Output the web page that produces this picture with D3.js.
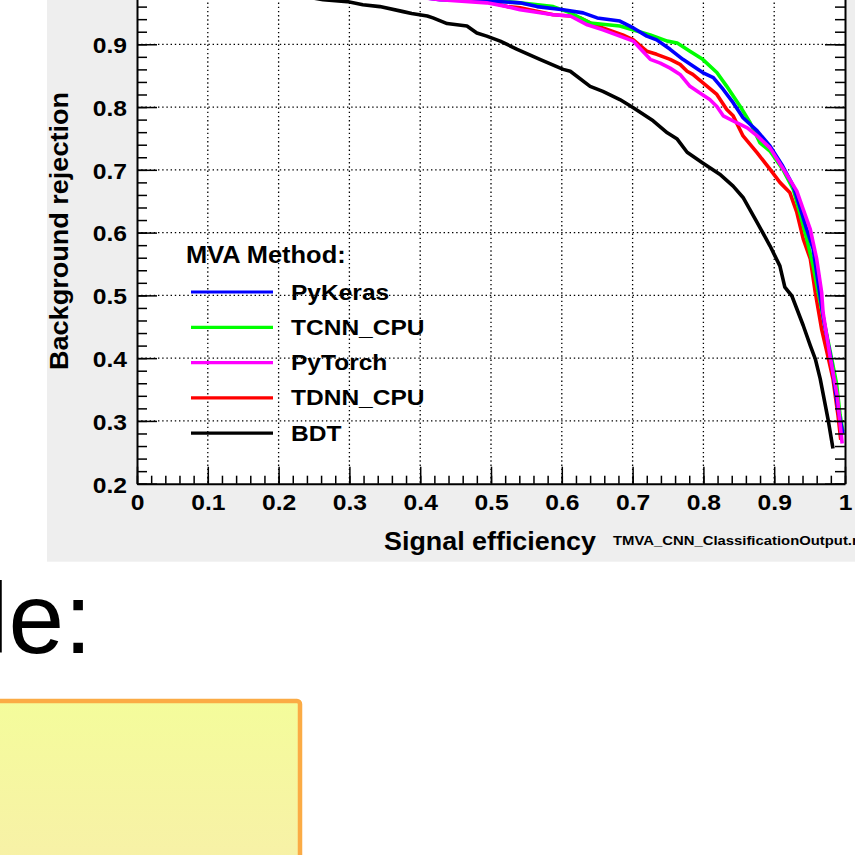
<!DOCTYPE html>
<html>
<head>
<meta charset="utf-8">
<script src="https://cdn.jsdelivr.net/npm/d3@7"></script>
<style>
html, body { margin: 0; padding: 0; background: #fff; overflow: hidden; }
svg { display: block; }
.root text { font-family: "Liberation Sans", Arial, Helvetica, sans-serif; font-weight: bold; fill: #000; }
.axis text { font-size: 22px; }
.axis path, .axis line { stroke: #000; }
.axis .domain { stroke-width: 2; }
.axis .tick line { stroke-width: 1.5; }
.grid line { stroke: #000; stroke-width: 1.3; stroke-dasharray: 1.4, 2.8; }
.slide text { font-family: "Liberation Sans", Arial, Helvetica, sans-serif; }
</style>
</head>
<body>
<div id="chart"></div>
<script>
// ROC curves: [signal efficiency, background rejection]
const methods = ["PyKeras", "TCNN_CPU", "PyTorch", "TDNN_CPU", "BDT"];
const methodColors = ["#0000ff", "#00ff00", "#ff00ff", "#ff0000", "#000000"];

const rocPyKeras = [[0,1],[0.1,0.999],[0.2,0.996],[0.3,0.99],[0.428,0.971],[0.494,0.969],[0.541,0.966],[0.565,0.960],
  [0.602,0.955],[0.630,0.950],[0.650,0.942],[0.682,0.937],[0.701,0.926],[0.720,0.913],[0.734,0.907],[0.753,0.892],
  [0.771,0.876],[0.799,0.855],[0.814,0.847],[0.828,0.828],[0.842,0.807],[0.856,0.783],[0.876,0.762],[0.894,0.738],
  [0.912,0.706],[0.927,0.674],[0.936,0.642],[0.946,0.605],[0.955,0.574],[0.962,0.521],[0.970,0.46],[0.980,0.40],
  [0.990,0.32],[0.997,0.280]];

const rocTCNN = [[0,1],[0.1,0.999],[0.2,0.996],[0.3,0.99],[0.43,0.975],[0.494,0.971],[0.541,0.966],[0.588,0.960],
  [0.612,0.950],[0.640,0.934],[0.682,0.929],[0.706,0.921],[0.725,0.915],[0.749,0.905],[0.763,0.902],[0.781,0.889],
  [0.799,0.876],[0.819,0.855],[0.833,0.833],[0.852,0.801],[0.866,0.775],[0.880,0.743],[0.894,0.730],[0.912,0.701],
  [0.927,0.669],[0.936,0.632],[0.946,0.590],[0.955,0.547],[0.963,0.50],[0.972,0.45],[0.981,0.40],[0.988,0.36],
  [0.993,0.31],[0.997,0.283]];

const rocPyTorch = [[0,1],[0.1,0.999],[0.2,0.995],[0.3,0.988],[0.428,0.971],[0.494,0.966],[0.523,0.960],[0.541,0.955],
  [0.588,0.947],[0.612,0.945],[0.636,0.931],[0.658,0.923],[0.682,0.913],[0.701,0.905],[0.710,0.894],[0.725,0.876],
  [0.739,0.870],[0.753,0.862],[0.767,0.852],[0.781,0.833],[0.794,0.823],[0.809,0.812],[0.819,0.801],[0.828,0.786],
  [0.847,0.775],[0.862,0.767],[0.876,0.754],[0.894,0.735],[0.912,0.703],[0.932,0.666],[0.941,0.637],[0.951,0.605],
  [0.960,0.558],[0.967,0.505],[0.969,0.473],[0.979,0.402],[0.989,0.340],[0.996,0.264]];

const rocTDNN = [[0,1],[0.1,0.999],[0.2,0.995],[0.3,0.988],[0.43,0.973],[0.494,0.968],[0.523,0.960],[0.541,0.958],
  [0.588,0.947],[0.612,0.945],[0.626,0.942],[0.640,0.934],[0.658,0.926],[0.686,0.915],[0.701,0.907],[0.720,0.889],
  [0.734,0.884],[0.753,0.876],[0.767,0.868],[0.777,0.857],[0.785,0.852],[0.799,0.839],[0.819,0.820],[0.833,0.796],
  [0.842,0.786],[0.856,0.754],[0.876,0.727],[0.894,0.701],[0.908,0.680],[0.922,0.664],[0.932,0.632],[0.941,0.590],
  [0.951,0.558],[0.958,0.505],[0.967,0.446],[0.976,0.402],[0.983,0.367],[0.990,0.31],[0.994,0.27]];

const rocBDT = [[0,1],[0.1,0.995],[0.2,0.983],[0.263,0.971],[0.297,0.968],[0.319,0.963],[0.343,0.960],[0.376,0.952],
  [0.388,0.949],[0.410,0.945],[0.418,0.942],[0.438,0.933],[0.466,0.929],[0.480,0.918],[0.494,0.913],[0.513,0.905],
  [0.537,0.892],[0.569,0.876],[0.602,0.860],[0.612,0.857],[0.640,0.833],[0.658,0.825],[0.682,0.812],[0.701,0.799],
  [0.729,0.778],[0.749,0.759],[0.763,0.749],[0.777,0.728],[0.799,0.711],[0.823,0.693],[0.842,0.674],[0.856,0.656],
  [0.876,0.616],[0.894,0.579],[0.908,0.547],[0.915,0.513],[0.925,0.499],[0.941,0.452],[0.951,0.420],[0.958,0.399],
  [0.965,0.367],[0.976,0.303],[0.983,0.256]];

const xTicks = [0, 0.1, 0.2, 0.3, 0.4, 0.5, 0.6, 0.7, 0.8, 0.9, 1];
const yTicks = [0.2, 0.3, 0.4, 0.5, 0.6, 0.7, 0.8, 0.9, 1];
const xMinor = d3.range(0, 1.0001, 0.02);
const yMinor = d3.range(0.2, 1.0001, 0.02);

const curves = [rocPyKeras, rocTCNN, rocPyTorch, rocTDNN, rocBDT];
const drawOrder = [4, 3, 1, 0, 2]; // magenta ends up on top, like the original

class RocPlot {
    constructor() {
        this.width = 855;
        this.height = 855;
        this.frame = { left: 137, right: 845, top: -18.5, bottom: 483.7 };
        this.x = d3.scaleLinear().domain([0, 1]).range([this.frame.left, this.frame.right]);
        this.y = d3.scaleLinear().domain([0.2, 1]).range([this.frame.bottom, this.frame.top]);
        this.fmt = d => String(+d.toFixed(1));
        this.line = d3.line()
            .x(d => this.x(d[0]))
            .y(d => this.y(d[1]));
    }

    // ROOT text comes out a little wider than Liberation Sans
    stretch(sel, k) {
        sel.each(function() {
            const w = this.getComputedTextLength();
            if (w > 0) {
                d3.select(this).attr("textLength", w * k).attr("lengthAdjust", "spacingAndGlyphs");
            }
        });
    }

    renderSvg(id) {
        this.svg = d3.select(id).append("svg")
            .attr("width", this.width)
            .attr("height", this.height);
    }

    renderSlide() {
        const slide = this.svg.append("g").attr("class", "slide");
        const grad = this.svg.append("defs").append("linearGradient")
            .attr("id", "boxFill").attr("x1", 0).attr("y1", 0).attr("x2", 0).attr("y2", 1);
        grad.append("stop").attr("offset", "0%").attr("stop-color", "#f4fc9b");
        grad.append("stop").attr("offset", "100%").attr("stop-color", "#f8eeaa");

        // slide heading, cut by the left edge of the screenshot
        slide.append("text")
            .attr("x", 92)
            .attr("y", 653)
            .attr("text-anchor", "end")
            .style("font-size", "100px")
            .text("Example:");

        slide.append("rect")
            .attr("x", -20)
            .attr("y", 701)
            .attr("width", 320)
            .attr("height", 200)
            .attr("rx", 3)
            .attr("fill", "url(#boxFill)")
            .attr("stroke", "#fbab45")
            .attr("stroke-width", 4.5);
    }

    renderCanvas() {
        this.root = this.svg.append("g").attr("class", "root");
        this.root.append("rect")
            .attr("x", 47).attr("y", -20)
            .attr("width", 830).attr("height", 581.7)
            .attr("fill", "#eeeeee");
        this.root.append("rect")
            .attr("x", this.frame.left).attr("y", this.frame.top)
            .attr("width", this.frame.right - this.frame.left)
            .attr("height", this.frame.bottom - this.frame.top)
            .attr("fill", "#fff");
        this.svg.append("clipPath").attr("id", "frameClip")
            .append("rect")
            .attr("x", this.frame.left).attr("y", this.frame.top)
            .attr("width", this.frame.right - this.frame.left)
            .attr("height", this.frame.bottom - this.frame.top);
    }

    renderGrid() {
        const g = this.root.append("g").attr("class", "grid");
        g.selectAll(".gx")
            .data(xTicks.filter(d => d > 0 && d < 1))
            .enter().append("line")
            .attr("x1", d => this.x(d)).attr("x2", d => this.x(d))
            .attr("y1", this.frame.top).attr("y2", this.frame.bottom);
        g.selectAll(".gy")
            .data(yTicks.filter(d => d > 0.2 && d < 1))
            .enter().append("line")
            .attr("y1", d => this.y(d)).attr("y2", d => this.y(d))
            .attr("x1", this.frame.left).attr("x2", this.frame.right);
    }

    renderAxes() {
        const f = this.frame;
        const addAxis = (axis, tx, ty, labels) => {
            const g = this.root.append("g")
                .attr("class", "axis")
                .attr("transform", "translate(" + tx + "," + ty + ")")
                .call(axis);
            g.attr("font-family", null).attr("font-size", null);
            if (!labels) g.selectAll("text").remove();
            return g;
        };
        const noDomain = g => g.select(".domain").remove();

        // minor ticks
        noDomain(addAxis(d3.axisLeft(this.y).tickValues(yMinor).tickSize(-10).tickFormat(""), f.left, 0, false));
        noDomain(addAxis(d3.axisRight(this.y).tickValues(yMinor).tickSize(-10).tickFormat(""), f.right, 0, false));
        noDomain(addAxis(d3.axisBottom(this.x).tickValues(xMinor).tickSize(-8).tickFormat(""), 0, f.bottom, false));
        noDomain(addAxis(d3.axisTop(this.x).tickValues(xMinor).tickSize(-8).tickFormat(""), 0, f.top, false));

        // major ticks + frame
        addAxis(d3.axisRight(this.y).tickValues(yTicks).tickSize(-20).tickSizeOuter(0), f.right, 0, false);
        addAxis(d3.axisTop(this.x).tickValues(xTicks).tickSize(-17).tickSizeOuter(0), 0, f.top, false);

        // the "1" label of the y axis sits above the screenshot, so it is left blank
        const left = addAxis(d3.axisLeft(this.y).tickValues(yTicks).tickSize(-20).tickSizeOuter(0)
            .tickPadding(10).tickFormat(d => d < 1 ? this.fmt(d) : ""), f.left, 0, true);
        left.selectAll("text").attr("dy", "0.38em");
        this.stretch(left.selectAll("text"), 1.12);

        const bottom = addAxis(d3.axisBottom(this.x).tickValues(xTicks).tickSize(-17).tickSizeOuter(0)
            .tickPadding(11).tickFormat(this.fmt), 0, f.bottom, true);
        this.stretch(bottom.selectAll("text"), 1.12);
    }

    renderLabels() {
        this.root.append("text")
            .attr("x", 384)
            .attr("y", 550)
            .style("font-size", "26px")
            .attr("textLength", 212)
            .attr("lengthAdjust", "spacingAndGlyphs")
            .text("Signal efficiency");

        this.root.append("text")
            .attr("transform", "translate(68,231) rotate(-90)")
            .attr("text-anchor", "middle")
            .style("font-size", "25px")
            .attr("textLength", 278)
            .attr("lengthAdjust", "spacingAndGlyphs")
            .text("Background rejection");

        const file = this.root.append("text")
            .attr("x", 613)
            .attr("y", 545)
            .style("font-size", "13.5px")
            .text("TMVA_CNN_ClassificationOutput.root");
        this.stretch(file, 1.1);
    }

    renderCurves() {
        const g = this.root.append("g").attr("clip-path", "url(#frameClip)");
        drawOrder.forEach(i => {
            g.append("path")
                .attr("d", this.line(curves[i]))
                .attr("fill", "none")
                .attr("stroke", methodColors[i])
                .attr("stroke-width", 3.6)
                .attr("stroke-linejoin", "round");
        });
    }

    renderLegend(x, y, step) {
        const lg = this.root.append("g").attr("class", "legend");
        const head = lg.append("text")
            .attr("x", x - 5)
            .attr("y", y - 29)
            .style("font-size", "24px")
            .text("MVA Method:");
        this.stretch(head, 1.06);

        const item = lg.selectAll(".item")
            .data(methods)
            .enter().append("g")
            .attr("transform", (d, i) => "translate(0," + (y + i * step) + ")");
        item.append("line")
            .attr("x1", x).attr("x2", x + 82)
            .attr("y1", 0).attr("y2", 0)
            .attr("stroke", (d, i) => methodColors[i])
            .attr("stroke-width", 3.2);
        const labels = item.append("text")
            .attr("x", x + 100)
            .attr("y", 7.5)
            .style("font-size", "22.5px")
            .text(d => d);
        this.stretch(labels, 1.09);
    }

    render(id) {
        this.renderSvg(id);
        this.renderSlide();
        this.renderCanvas();
        this.renderGrid();
        this.renderCurves();
        this.renderAxes();
        this.renderLabels();
        this.renderLegend(191, 292, 35.3);
    }
}

new RocPlot().render("#chart");
</script>
</body>
</html>
